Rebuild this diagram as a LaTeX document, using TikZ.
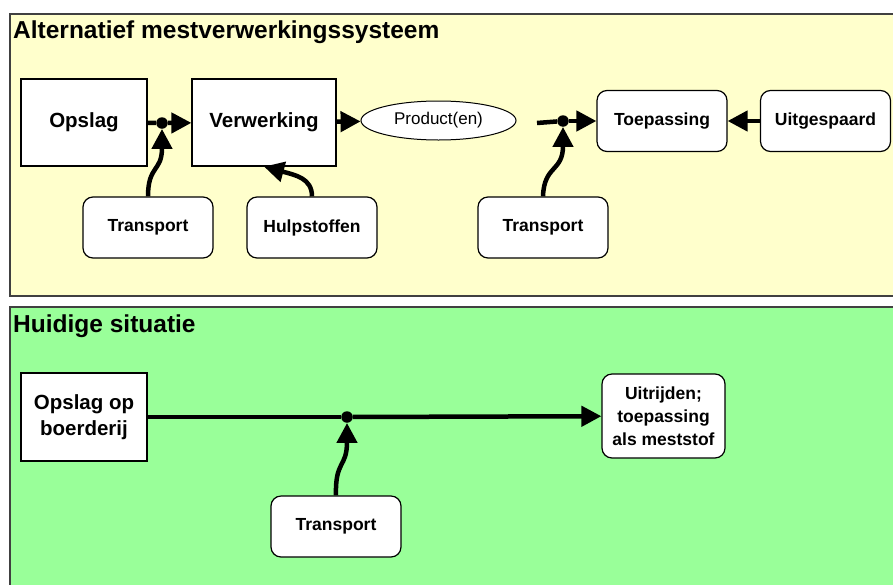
\documentclass[tikz,border=0pt]{standalone}
\usepackage{fontspec}
\setmainfont{Liberation Sans}
\usetikzlibrary{arrows.meta,shapes.geometric}
\definecolor{paleyellow}{HTML}{FFFFCC}
\definecolor{palegreen}{HTML}{99FF99}
\tikzset{
    panel/.style={draw=black!75, line width=1.5pt},
    title/.style={inner sep=0pt, font=\fontsize{24.5}{28}\selectfont\bfseries},
    square/.style={draw, fill=white, line width=1.2pt, minimum width=126pt, minimum height=87pt,
        inner sep=0pt, align=center, font=\fontsize{20.5}{26}\selectfont\bfseries},
    rbox/.style={draw, fill=white, line width=1.2pt, rounded corners=10pt, minimum width=130pt,
        minimum height=61pt, inner sep=0pt, align=center, font=\fontsize{17.5}{23}\selectfont\bfseries},
    product/.style={ellipse, draw, fill=white, line width=1pt, minimum width=155pt, minimum height=39pt,
        inner sep=0pt, font=\fontsize{17}{20}\selectfont},
    joint/.style={circle, fill, inner sep=0pt, minimum size=11.5pt},
    link/.style={line width=4.5pt},
    flow/.style={line width=4.5pt, -{Triangle[length=20pt,width=20pt]}},
}
\begin{document}
\begin{tikzpicture}[x=1pt,y=-1pt]
        \useasboundingbox (0,0) rectangle (893,584);
        \clip (0,0) rectangle (893,584);
        \draw[panel, fill=paleyellow] (10,14) rectangle (905,296);
        \draw[panel, fill=palegreen] (10,307) rectangle (905,600);
        \node[title, anchor=base west](alt) at (13,38) {Alternatief mestverwerkingssysteem};
        \node[title, anchor=base west](hui) at (13,332) {Huidige situatie};

        \node[square](op) at (84,122.5) {Opslag};
        \node[square, minimum width=144pt](vw) at (264,122.5) {Verwerking};
        \node[product](pr) at (438.5,120.5) {Product(en)};
        \node[rbox](tp) at (662,121) {Toepassing};
        \node[rbox](us) at (825.5,121) {Uitgespaard};
        \node[rbox](t1) at (148,227.5) {Transport};
        \node[rbox](hs) at (312,227.5) {Hulpstoffen};
        \node[rbox](t2) at (543,227.5) {Transport};
        \node[joint](j1) at (162,123) {};
        \node[joint](j2) at (563,121) {};
        \coordinate (pin) at (537,123);

        \node[square, minimum height=88pt](ob) at (84,417) {Opslag op\\boerderij};
        \node[rbox, minimum width=123pt, minimum height=84pt](ui) at (663.5,416) {Uitrijden;\\toepassing\\als meststof};
        \node[rbox](t3) at (336,526.5) {Transport};
        \node[joint](j3) at (347,417) {};

        \path
            (op) edge [link] (j1)
            (j1) edge [flow] (vw)
            (vw) edge [flow] (pr)
            (pin) edge [link] (j2)
            (j2) edge [flow] (tp)
            (us) edge [flow] (tp)
            (ob) edge [link] (j3)
            (j3) edge [flow] (ui)
            ;
        \draw[flow] (t1.north) .. controls (148,165) and (162,172) .. (j1);
        \draw[flow] (hs.north) .. controls (312,178) and (295,175) .. (vw.south);
        \draw[flow] (t2.north) .. controls (544,165) and (563,172) .. (j2);
        \draw[flow] (t3.north) .. controls (335,460) and (347,468) .. (j3);
    \end{tikzpicture}
\end{document}
